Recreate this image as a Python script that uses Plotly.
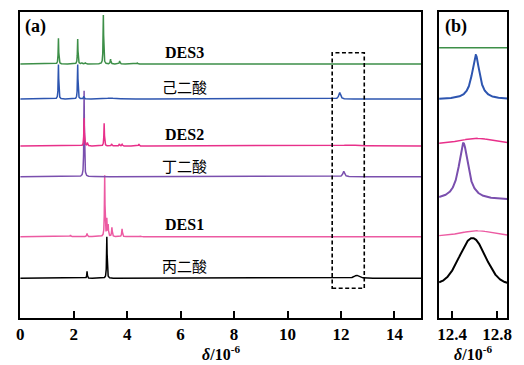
import numpy as np
import plotly.graph_objects as go

# ---------------- data ----------------
# peak lists: (shift / 1e-6, height, half-width, lorentz fraction)
names = ["丙二酸", "DES1", "丁二酸", "DES2", "己二酸", "DES3"]

peaks_malonic = [(2.50, 7.0, 0.012, 1), (3.24, 41.6, 0.012, 1), (12.58, 3.0, 0.10, 1)]
peaks_des1 = [(1.88, 1.5, 0.015, 1), (2.50, 3.3, 0.015, 1), (3.16, 61.0, 0.012, 1),
              (3.24, 17.0, 0.012, 1), (3.29, 11.0, 0.012, 1), (3.43, 9.0, 0.015, 1),
              (3.81, 7.7, 0.015, 1), (4.49, 1.0, 0.02, 1)]
peaks_succinic = [(2.39, 86.0, 0.012, 1), (12.10, 5.3, 0.04, 1)]
peaks_des2 = [(2.39, 28.0, 0.012, 1), (2.51, 3.3, 0.015, 1), (3.14, 22.7, 0.012, 1),
              (3.42, 2.0, 0.015, 1), (3.71, 2.0, 0.015, 1), (3.81, 1.7, 0.015, 1),
              (4.44, 2.0, 0.015, 1), (12.30, 1.0, 0.3, 1)]
peaks_adipic = [(1.43, 34.5, 0.012, 1), (2.15, 34.5, 0.012, 1), (2.38, 2.5, 0.015, 1),
                (3.35, 1.0, 0.15, 1), (11.95, 6.5, 0.04, 1)]
peaks_des3 = [(1.43, 25.7, 0.012, 1), (2.15, 25.0, 0.012, 1), (2.31, 1.0, 0.02, 1),
              (2.44, 1.0, 0.02, 1), (3.11, 49.0, 0.012, 1), (3.38, 4.7, 0.015, 1),
              (3.72, 3.0, 0.015, 1), (4.38, 1.0, 0.02, 1)]
peaks_a = [peaks_malonic, peaks_des1, peaks_succinic, peaks_des2, peaks_adipic, peaks_des3]

# zoomed region (b)
peaks_b = [
    [(12.58, 46.0, 0.135, 0)],
    [(12.62, 6.8, 0.20, 1)],
    [(12.50, 57.0, 0.05, 1)],
    [(12.62, 6.8, 0.20, 1)],
    [(12.61, 44.5, 0.04, 1)],
    [],
]

x_ticks_a = [0, 2, 4, 6, 8, 10, 12, 14]
x_ticks_b = [12.4, 12.8]

# stacking offsets (plot units) and styles
offsets_a = [39.7, 81.3, 141.3, 172.0, 219.0, 254.0]
offsets_b = [34.0, 80.6, 118.0, 173.0, 218.5, 270.3]
colors = ["#000000", "#ec5aa2", "#7a4fae", "#e8308a", "#2d55b0", "#3d8f48"]
widths_b = [2.0, 1.4, 2.0, 1.5, 2.0, 1.5]

label_y = [53.0, 94.0, 153.0, 183.7, 231.3, 265.7]


def spectrum(x, peaks):
    y = np.zeros_like(x)
    for c, h, w, eta in peaks:
        d = (x - c) / w
        lor = 1.0 / (1.0 + d * d)
        gau = np.exp(-np.log(2) * d * d)
        y += h * (eta * lor + (1 - eta) * gau)
    return y


XA = (0.0, 15.0)
XB = (12.2836, 12.890)

fig = go.Figure()
for i in range(6):
    xa = np.union1d(np.linspace(XA[0], XA[1], 9001), [p[0] for p in peaks_a[i]])
    fig.add_trace(go.Scatter(x=xa, y=offsets_a[i] + spectrum(xa, peaks_a[i]),
                             mode="lines", line=dict(color=colors[i], width=1.5),
                             xaxis="x", yaxis="y", showlegend=False, hoverinfo="skip"))
for i in range(6):
    xb = np.union1d(np.linspace(XB[0], XB[1], 800), [p[0] for p in peaks_b[i]])
    fig.add_trace(go.Scatter(x=xb, y=offsets_b[i] + spectrum(xb, peaks_b[i]),
                             mode="lines", line=dict(color=colors[i], width=widths_b[i]),
                             xaxis="x2", yaxis="y2", showlegend=False, hoverinfo="skip"))

SERIF = "Liberation Serif, Times New Roman, serif"
CJK = "Noto Sans CJK SC"

W, H = 524, 365
dom_xa = [16.5 / W, 424.5 / W]
dom_xb = [442.7 / W, 512.0 / W]
dom_y = [47.0 / H, 353.0 / H]

axis_common = dict(showline=True, linecolor="black", linewidth=2, mirror=True,
                   showgrid=False, zeroline=False)

fig.update_layout(
    width=W, height=H, margin=dict(l=0, r=0, t=0, b=0),
    paper_bgcolor="white", plot_bgcolor="white",
    xaxis=dict(domain=dom_xa, range=list(XA), tickvals=x_ticks_a,
               ticks="inside", ticklen=7, tickwidth=2, tickcolor="black",
               tickfont=dict(family=SERIF, size=17, color="black", weight="bold"),
               **axis_common),
    yaxis=dict(domain=dom_y, range=[0, 306], showticklabels=False, ticks="",
               **axis_common),
    xaxis2=dict(domain=dom_xb, range=list(XB), tickvals=x_ticks_b,
                ticktext=[f"{v:.1f}" for v in x_ticks_b], anchor="y2",
                ticks="inside", ticklen=7, tickwidth=2, tickcolor="black",
                tickfont=dict(family=SERIF, size=17, color="black", weight="bold"),
                **axis_common),
    yaxis2=dict(domain=dom_y, range=[0, 306], anchor="x2", showticklabels=False,
                ticks="", **axis_common),
)

# dashed box marking the zoomed region
fig.add_shape(type="rect", xref="x", yref="y", x0=11.67, x1=12.87, y0=29.7, y1=265.3,
              line=dict(color="black", width=1.6, dash="4px,2.5px"))

anns = []
for i in range(6):
    is_cjk = not names[i].startswith("DES")
    anns.append(dict(x=6.14, y=label_y[i], xref="x", yref="y", showarrow=False,
                     text=names[i] if is_cjk else f"<b>{names[i]}</b>",
                     font=dict(family=CJK if is_cjk else SERIF, size=16 if not is_cjk else 15,
                               color="black"),
                     xanchor="center", yanchor="middle"))
anns.append(dict(x=32 / W, y=1 - 26.7 / H, xref="paper", yref="paper", showarrow=False,
                 text="<b>(a)</b>", font=dict(family=SERIF, size=18, color="black"),
                 xanchor="center", yanchor="middle"))
anns.append(dict(x=459.5 / W, y=1 - 26.7 / H, xref="paper", yref="paper", showarrow=False,
                 text="<b>(b)</b>", font=dict(family=SERIF, size=18, color="black"),
                 xanchor="center", yanchor="middle"))
for xr in ["x domain", "x2 domain"]:
    anns.append(dict(x=0.5, y=0.0, xref=xr, yref="paper", showarrow=False,
                     text="<b><i>δ</i>/10<sup>-6</sup></b>",
                     font=dict(family=SERIF, size=16, color="black"),
                     xanchor="center", yanchor="bottom", yshift=0))
fig.update_layout(annotations=anns)

fig.write_html("out.html")
